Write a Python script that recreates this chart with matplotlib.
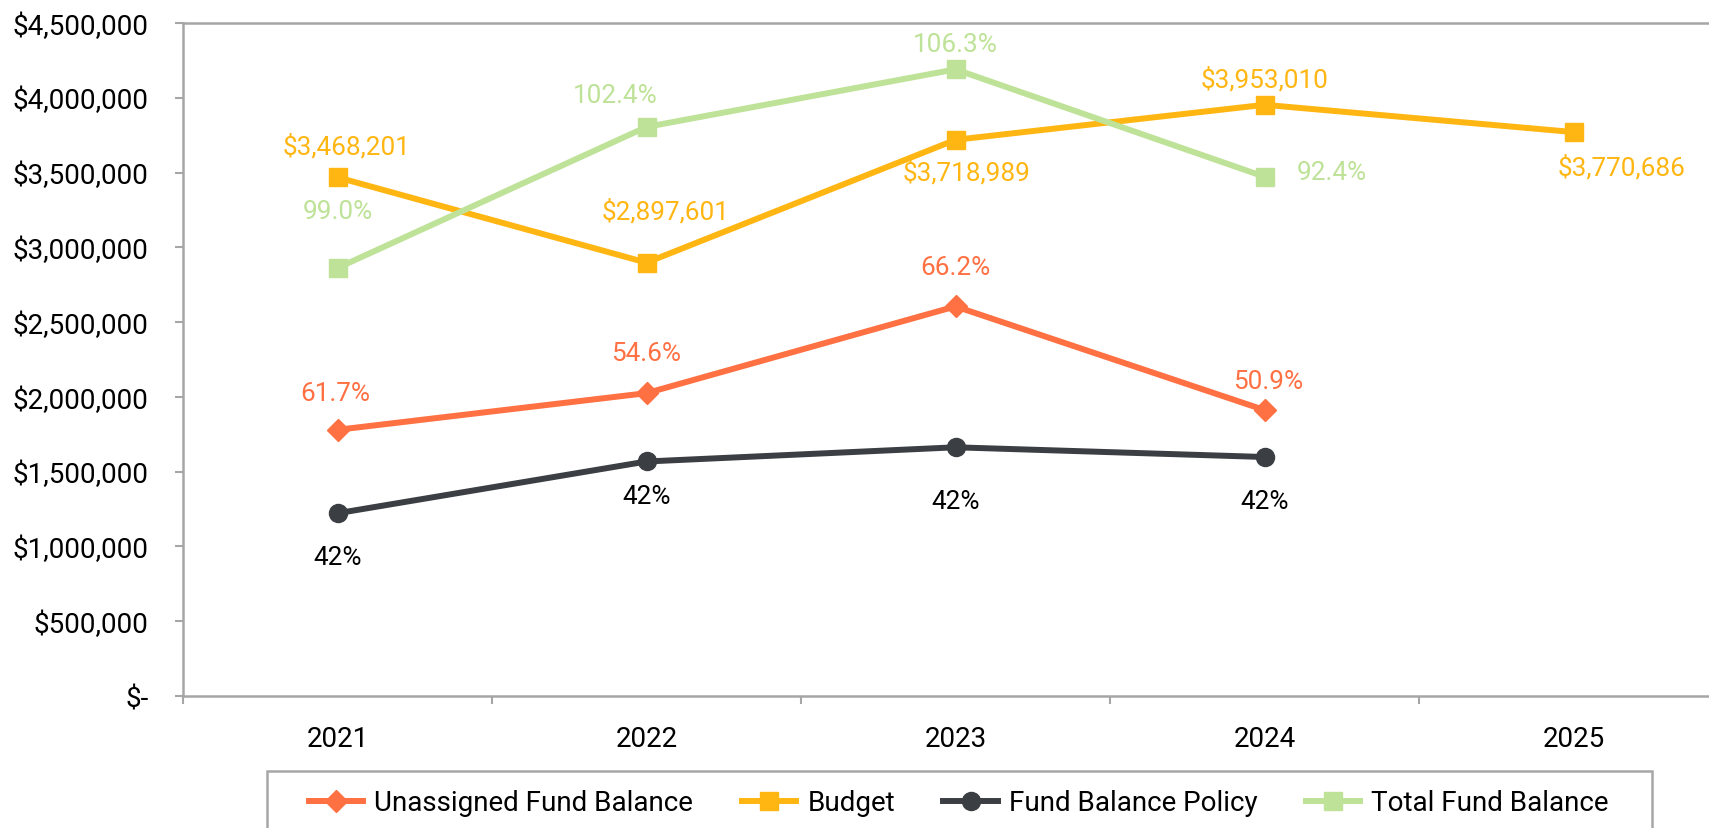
import matplotlib
matplotlib.use("Agg")
import matplotlib.pyplot as plt
from matplotlib.patches import Rectangle
from matplotlib.ticker import FuncFormatter, MultipleLocator, FixedLocator

plt.rcParams["font.family"] = ["Roboto", "DejaVu Sans"]

# ── Data ──────────────────────────────────────────────────────────
years      = ["2021", "2022", "2023", "2024", "2025"]
budget     = [3468201, 2897601, 3718989, 3953010, 3770686]
unassigned = [1780000, 2025000, 2605000, 1912000]
policy     = [1222000, 1568000, 1663000, 1598000]
total      = [2862000, 3805000, 4190000, 3472000]

unassigned_pct = ["61.7%", "54.6%", "66.2%", "50.9%"]
policy_pct     = ["42%", "42%", "42%", "42%"]
total_pct      = ["99.0%", "102.4%", "106.3%", "92.4%"]

# ── Style ─────────────────────────────────────────────────────────
C_UNAS = "#FF7043"
C_BUD  = "#FFB612"
C_POL  = "#3B3F43"
C_TOT  = "#BEE297"
C_AX   = "#A6A6A6"

W, H, DPI = 1709, 829, 100
fig = plt.figure(figsize=(W / DPI, H / DPI), dpi=DPI)
ax = fig.add_axes([183 / W, 1 - 697 / H, (1728 - 183) / W, (697 - 24) / H])

x = list(range(len(years)))
LW, MS = 4.3, 13

l1, = ax.plot(x[:4], unassigned, color=C_UNAS, lw=LW, marker="D", ms=MS * 0.85,
              label="Unassigned Fund Balance")
l2, = ax.plot(x, budget, color=C_BUD, lw=LW, marker="s", ms=MS, label="Budget")
l3, = ax.plot(x[:4], policy, color=C_POL, lw=LW, marker="o", ms=MS,
              label="Fund Balance Policy")
l4, = ax.plot(x[:4], total, color=C_TOT, lw=LW, marker="s", ms=MS,
              label="Total Fund Balance")

# ── Data labels (offsets in pixels) ───────────────────────────────
FS = 18.8


def label(xi, yi, txt, dx, dy, color, ha="center"):
    ax.annotate(txt, (xi, yi), xytext=(dx, dy), textcoords="offset pixels",
                ha=ha, va="center", fontsize=FS, color=color)


bud_off = [(9, 32), (19, 52), (11, -32), (0, 26), (48, -35)]
for i, v in enumerate(budget):
    label(i, v, f"${v:,.0f}", *bud_off[i], C_BUD)

tot_off = [(0, 57), (-31, 32), (0, 25), (32, 5)]
for i, v in enumerate(total):
    label(i, v, total_pct[i], *tot_off[i], C_TOT, ha="left" if i == 3 else "center")

una_off = [(-2, 37), (0, 40), (0, 39), (4, 29)]
for i, v in enumerate(unassigned):
    label(i, v, unassigned_pct[i], *una_off[i], C_UNAS)

pol_off = [(0, -44), (0, -35), (0, -54), (0, -44)]
for i, v in enumerate(policy):
    label(i, v, policy_pct[i], *pol_off[i], "black")

# ── Axes ──────────────────────────────────────────────────────────
ax.set_xlim(-0.5, 4.5)
ax.set_ylim(0, 4500000)
ax.yaxis.set_major_locator(MultipleLocator(500000))
ax.yaxis.set_major_formatter(FuncFormatter(lambda v, p: "$-" if v == 0 else f"${v:,.0f}"))
ax.set_xticks(x)
ax.set_xticklabels(years)
ax.xaxis.set_minor_locator(FixedLocator([-0.5, 0.5, 1.5, 2.5, 3.5]))
ax.tick_params(axis="x", which="major", length=0, pad=21, labelsize=20)
ax.tick_params(axis="x", which="minor", length=6, width=1.5, color=C_AX, direction="out")
ax.tick_params(axis="y", length=6, width=1.5, color=C_AX, pad=19, labelsize=20)
for sp in ax.spines.values():
    sp.set_color(C_AX)
    sp.set_linewidth(1.8)

# ── Legend (box drawn separately, runs off the bottom edge) ───────
fig.legend(handles=[l1, l2, l3, l4], loc="center", ncol=4,
           bbox_to_anchor=(959 / W, 1 - 804 / H), fontsize=20,
           frameon=False, handlelength=1.95, handletextpad=0.4,
           columnspacing=1.75, borderpad=0, borderaxespad=0)
fig.patches.append(Rectangle((267 / W, -20 / H), (1652 - 267) / W, (829 - 772 + 20) / H,
                             transform=fig.transFigure, fill=False,
                             edgecolor=C_AX, linewidth=1.8))

fig.savefig("out.png", dpi=DPI)
